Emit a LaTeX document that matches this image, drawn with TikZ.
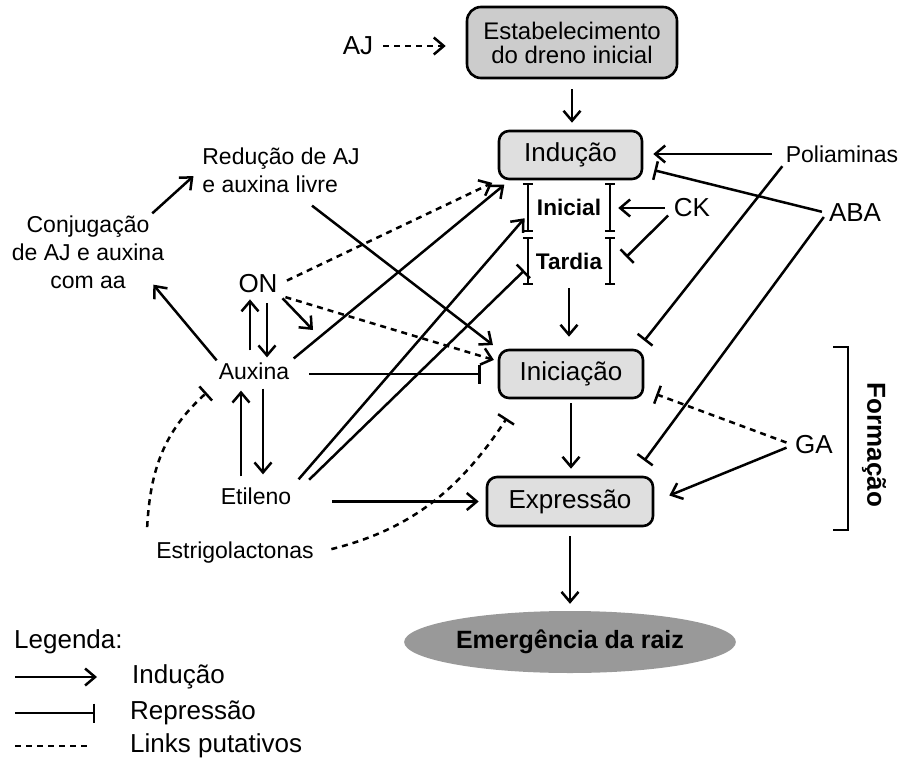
\documentclass[tikz,border=0pt]{standalone}
\usepackage{fontspec}
\setmainfont{Liberation Sans}
\usetikzlibrary{arrows.meta,shapes.geometric}
\newcommand\labfont{\fontsize{23}{28}\selectfont}
\newcommand\keyfont{\fontsize{26}{30}\selectfont}

\begin{document}
\begin{tikzpicture}[x=1pt,y=-1pt,
	lab/.style={inner sep=2pt,font=\labfont},
	key/.style={inner sep=2pt,font=\keyfont},
	stagebox/.style={draw,line width=2.6pt,rounded corners=10pt,fill=gray!25,inner sep=0pt,font=\keyfont},
	phase/.style={minimum width=82pt,inner sep=0pt,font=\bfseries\fontsize{22.6}{26}\selectfont},
	brk/.style={line width=2.5pt,{Bar[width=10pt]}-{Bar[width=10pt]}},
	ind/.style={line width=2.5pt,-{Straight Barb[length=10pt,width=17pt]}},
	rep/.style={line width=2.5pt,-{Bar[width=19pt]}},
	put/.style={dash pattern=on 6pt off 5pt}]
\useasboundingbox (0,0) rectangle (904,762);

% stages
\node[stagebox,fill=gray!40,minimum width=210pt,minimum height=71pt,rounded corners=14pt,
	align=center,font=\fontsize{24}{24}\selectfont] (est) at (572,42.5) {Estabelecimento\\do dreno inicial};
\node[stagebox,minimum width=143pt,minimum height=48pt] (ind) at (570.5,155) {Indução};
\node[phase,minimum height=49pt] (ini) at (569,207.5) {Inicial};
\node[phase,minimum height=48pt] (tar) at (569,261) {Tardia};
\node[stagebox,minimum width=144pt,minimum height=48pt] (inic) at (571,374) {Iniciação};
\node[stagebox,minimum width=166pt,minimum height=49pt] (exp) at (570,501.5) {Expressão};
\node[ellipse,fill=gray!80,minimum width=305pt,minimum height=62pt,
	font=\bfseries\fontsize{25}{30}\selectfont] (emr) at (570,642) {Emergência da raiz};

% factors
\node[key] (aj) at (358,46) {AJ};
\node[lab] (pol) at (842,154) {Poliaminas};
\node[key] (aba) at (855,213) {ABA};
\node[key] (ck) at (692,208) {CK};
\node[key] (ga) at (814,445) {GA};
\node[lab,align=left] (red) at (281,170) {Redução de AJ\\e auxina livre};
\node[lab,align=center] (con) at (88,252) {Conjugação\\de AJ e auxina\\com aa};
\node[key] (on) at (258,284) {ON};
\node[lab] (aux) at (254,371) {Auxina};
\node[lab] (eti) at (256,496) {Etileno};
\node[lab] (str) at (235,553) {Estrigolactonas};
\node[key,rotate=-90,font=\bfseries\keyfont] (form) at (874,445) {Formação};
\coordinate (onend) at (313,330);

% main sequence
\draw[ind,put,shorten <=8pt,shorten >=20pt] (aj.east) -- (aj.east -| est.west);
\draw[ind,shorten <=10pt,shorten >=7pt] (est.south) -- (est.south |- ind.north);
\draw[brk] (ini.north west) -- (ini.south west);
\draw[brk] (ini.north east) -- (ini.south east);
\draw[brk] (tar.north west) -- (tar.south west);
\draw[brk] (tar.north east) -- (tar.south east);
\draw[ind,shorten <=3pt,shorten >=12pt] (tar.south) -- (tar.south |- inic.north);
\draw[ind,shorten <=4pt,shorten >=7pt] (inic.south) -- (inic.south |- exp.north);
\draw[ind,shorten <=9pt,shorten >=7pt] (exp.south) -- (exp.south |- emr.north);
\draw[line width=2.5pt] (833,347) -| (848,530) -- (833,530);

% right side
\draw[ind,shorten <=12pt,shorten >=10pt] (pol.west) -- (pol.west -| ind.east);
\draw[rep,shorten <=5pt] (aba.west) -- ([shift={(11,-10)}]ind.south east);
\draw[ind,shorten <=7pt,shorten >=8pt] (ck.west) -- (ck.west -| ini.east);
\draw[rep,shorten <=5pt] ([yshift=-4pt]ck.west) -- ([shift={(16,-4)}]tar.east);
\draw[rep,shorten <=2pt] (pol.south west) -- ([yshift=8pt]inic.north east);
\draw[rep,shorten <=5pt] (aba.west) -- ([shift={(-10,-15)}]exp.north east);
\draw[rep,put,shorten <=7pt] (ga.west) -- ([shift={(12,-5)}]inic.south east);
\draw[ind,shorten <=7pt] (ga.west) -- ([shift={(15,-6)}]exp.east);

% left side
\draw[ind,shorten >=9pt] ([xshift=-14pt]con.north east) -- (red.west);
\draw[ind] (aux.north west) -- ([shift={(-13,-6)}]con.south east);
\draw[ind,shorten >=6pt] ([shift={(31,11)}]red.south) -- (inic.north west);
\draw[ind,shorten <=4pt] (on.south east) -- (onend);
\draw[ind,put,shorten <=8pt,shorten >=6pt] (on.east) -- (ind.south west);
\draw[ind,put,shorten <=6pt,shorten >=4pt] (on.south east) -- (inic.170);
\draw[ind,shorten <=10pt,shorten >=4pt] ([xshift=-4pt]aux.north) -- ([xshift=-8pt]on.south);
\draw[ind,shorten <=8pt,shorten >=3pt] ([xshift=9pt]on.south) -- ([xshift=13pt]aux.north);
\draw[ind,shorten <=7pt,shorten >=11pt] ([xshift=9pt]aux.south) -- ([xshift=7pt]eti.north);
\draw[ind,shorten <=9pt,shorten >=9pt] ([xshift=-15pt]eti.north) -- ([xshift=-13pt]aux.south);
\draw[ind,shorten <=3pt,shorten >=7pt] (aux.north east) -- ([xshift=12pt]ind.south west);
\draw[rep,shorten <=18pt,shorten >=17pt] (aux.east |- inic.west) -- (inic.west);
\draw[ind,shorten <=8pt,shorten >=5pt] (eti.north east) -- ([yshift=-7pt]ini.west);
\draw[rep,shorten <=8pt,shorten >=5pt] ([xshift=10pt]eti.north east) -- ([yshift=-6pt]tar.west);
\draw[ind,shorten <=39pt,shorten >=7pt] (eti.east |- exp.west) -- (exp.west);
\draw[rep,put] ([shift={(-7,-13)}]str.north west) to[out=87,in=222] ([shift={(-10,11)}]aux.south west);
\draw[rep,put,shorten <=16pt] (str.east) to[out=14,in=237] ([shift={(9,19)}]inic.south west);

% legend
\node[key,anchor=west] (leg) at (12,642) {Legenda:};
\node[key,anchor=west] (lgind) at (130,677) {Indução};
\node[key,anchor=west] (lgrep) at (128,713) {Repressão};
\node[key,anchor=west] (lgput) at (128,746) {Links putativos};
\draw[ind] ([xshift=-115pt]lgind.west) -- ([xshift=-33pt]lgind.west);
\draw[rep] ([xshift=-113pt]lgrep.west) -- ([xshift=-33pt]lgrep.west);
\draw[line width=2.5pt,put] ([xshift=-113pt]lgput.west) -- ([xshift=-38pt]lgput.west);
\end{tikzpicture}
\end{document}
